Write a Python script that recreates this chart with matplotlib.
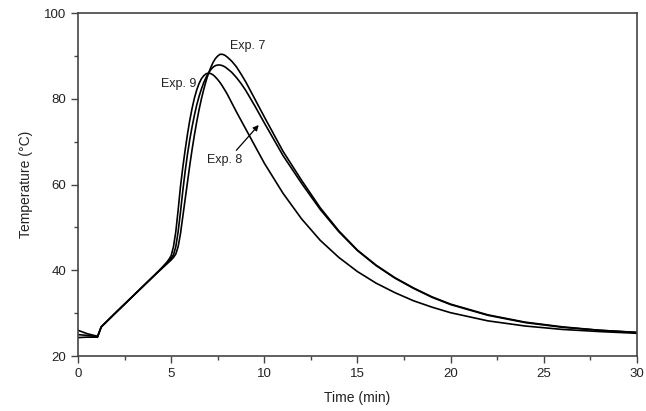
import matplotlib
matplotlib.use("Agg")
import matplotlib.pyplot as plt
from matplotlib.ticker import MultipleLocator

plt.rcParams['font.family'] = ['Liberation Sans', 'DejaVu Sans']

# time (min)
time = [0, 0.5, 1.05, 1.25, 2, 3, 4, 4.5, 4.75, 4.875,
        5.0, 5.125, 5.25, 5.375, 5.5, 5.625, 5.75, 5.875,
        6.0, 6.125, 6.25, 6.375, 6.5, 6.625, 6.75, 6.875,
        7.0, 7.125, 7.25, 7.375, 7.5, 7.625, 7.75, 7.875,
        8.0, 8.25, 8.5, 8.75, 9, 9.5, 10, 11, 12, 13, 14, 15, 16, 17, 18,
        19, 20, 22, 24, 26, 28, 30]

exp7 = [26.0, 25.2, 24.6, 26.8, 30.0, 34.2, 38.4, 40.4, 41.4, 41.9,
        42.4, 43.0, 43.8, 45.5, 48.5, 52.5, 56.5, 60.5,
        64.5, 68.2, 71.6, 74.7, 77.5, 80.0, 82.2, 84.2,
        85.9, 87.3, 88.5, 89.4, 90.0, 90.4, 90.4, 90.2,
        89.8, 88.8, 87.5, 85.8, 84.0, 79.9, 75.8, 67.8, 61.0, 54.6, 49.2,
        44.7, 41.2, 38.3, 35.9, 33.8, 32.1, 29.6, 27.9, 26.8, 26.0, 25.5]

exp8 = [25.0, 24.8, 24.5, 26.8, 30.0, 34.2, 38.4, 40.5, 41.6, 42.2,
        42.8, 43.6, 45.5, 49.0, 53.5, 58.5, 63.0, 67.0,
        70.5, 73.5, 76.2, 78.6, 80.6, 82.3, 83.8, 85.0,
        86.0, 86.8, 87.4, 87.75, 87.9, 87.9, 87.75, 87.5,
        87.1, 86.2, 85.0, 83.6, 82.0, 78.3, 74.4, 66.8, 60.3, 54.2, 49.0,
        44.6, 41.1, 38.2, 35.8, 33.7, 32.0, 29.5, 27.8, 26.7, 26.0, 25.5]

exp9 = [24.3, 24.4, 24.4, 26.8, 30.0, 34.2, 38.4, 40.6, 41.8, 42.5,
        43.4, 45.5, 49.0, 54.0, 59.5, 64.0, 68.0, 71.7,
        75.0, 77.8, 80.2, 82.1, 83.6, 84.7, 85.4, 85.85,
        86.0, 85.9, 85.6, 85.1, 84.5, 83.8, 83.0, 82.1,
        81.2, 79.1, 77.0, 75.0, 73.0, 69.0, 65.0, 58.0, 52.0, 47.0, 43.0,
        39.7, 37.0, 34.8, 32.9, 31.4, 30.1, 28.2, 27.0, 26.2, 25.7, 25.3]

fig = plt.figure(figsize=(6.46, 4.11), dpi=100)
ax = fig.add_axes([0.1207, 0.1338, 0.8653, 0.8342])

for y in (exp7, exp8, exp9):
    ax.plot(time, y, color='black', lw=1.2, solid_joinstyle='round')

ax.set_xlim(0, 30)
ax.set_ylim(20, 100)
ax.xaxis.set_major_locator(MultipleLocator(5))
ax.xaxis.set_minor_locator(MultipleLocator(2.5))
ax.yaxis.set_major_locator(MultipleLocator(20))
ax.yaxis.set_minor_locator(MultipleLocator(10))
ax.tick_params(which='major', direction='out', length=5, width=1, color='#444444',
               labelsize=9.5, labelcolor='#222222', top=False, right=False)
ax.tick_params(which='minor', direction='out', length=3, width=1, color='#444444',
               top=False, right=False)
for s in ax.spines.values():
    s.set_color('#444444')
    s.set_linewidth(1.2)

ax.set_xlabel('Time (min)', fontsize=10, color='#222222', labelpad=8)
ax.set_ylabel('Temperature (°C)', fontsize=10, color='#222222', labelpad=8)

ax.text(8.17, 92.3, 'Exp. 7', fontsize=9, color='#222222', va='center')
ax.text(6.34, 83.4, 'Exp. 9', fontsize=9, color='#222222', va='center', ha='right')
ax.text(6.95, 65.7, 'Exp. 8', fontsize=9, color='#222222', va='center')
ax.annotate('', xy=(9.7, 73.9), xytext=(8.5, 68.0),
            arrowprops=dict(arrowstyle='-|>', color='black', lw=0.9,
                            mutation_scale=8, shrinkA=0, shrinkB=0))

fig.savefig('out.png', dpi=100)
